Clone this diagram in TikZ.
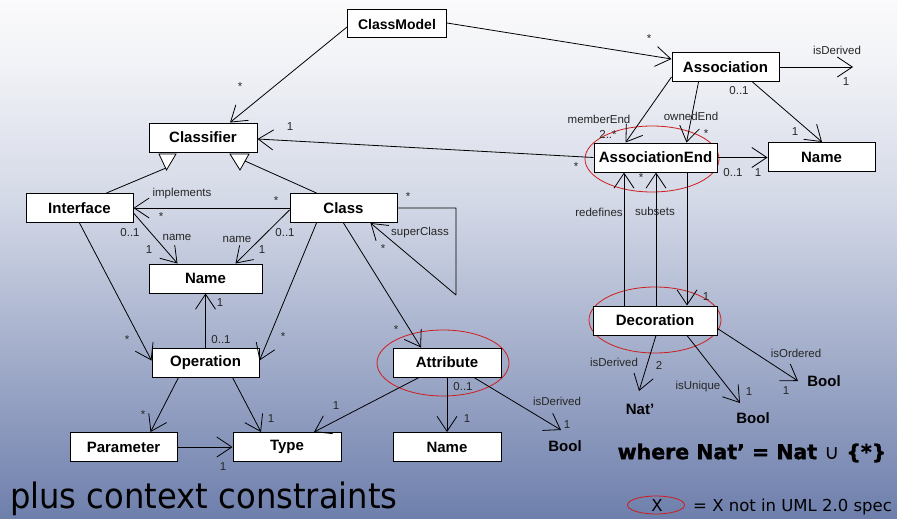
\documentclass[tikz,border=0pt]{standalone}
\usepackage{fontspec}
\setmainfont{Liberation Sans}
\newfontfamily\dejavu{DejaVu Sans}
\newfontfamily\dejavuheavy{DejaVu Sans}[BoldFeatures={FakeBold=1.6}]
\usetikzlibrary{arrows.meta,shapes.geometric}
\definecolor{bgtop}{RGB}{250,250,251}
\definecolor{bgmida}{RGB}{242,243,247}
\definecolor{bgmidb}{RGB}{212,217,231}
\definecolor{bgbot}{RGB}{110,127,172}
\definecolor{ellred}{RGB}{205,30,30}
\begin{document}
\begin{tikzpicture}[x=1pt,y=-1pt,
  cls/.style={draw=black,fill=white,line width=1pt,minimum width=107pt,minimum height=29pt,inner sep=0pt,font=\fontsize{15}{15}\selectfont\bfseries},
  assoc/.style={draw=black,line width=0.8pt,line join=round,-{Straight Barb[length=15pt,width=20pt,line width=0.8pt]}},
  plain/.style={draw=black,line width=0.8pt},
  lbl/.style={font=\fontsize{11.5}{11.5}\selectfont,inner sep=0pt,text=black!85},
  btxt/.style={font=\fontsize{15}{15}\selectfont\bfseries,inner sep=0pt},
  redell/.style={draw=ellred,line width=0.8pt}
]
\useasboundingbox (0,0) rectangle (897,519);
% background
\shade[top color=bgtop,bottom color=bgmida] (0,0) rectangle (897,60.5);
\shade[top color=bgmida,bottom color=bgmidb] (0,60) rectangle (897,200.5);
\shade[top color=bgmidb,bottom color=bgbot] (0,200) rectangle (897,519);

% red ellipses (behind)
\draw[redell] (652,159) ellipse [x radius=67,y radius=33];
\draw[redell] (655,320) ellipse [x radius=66,y radius=33];
\draw[redell] (443,363) ellipse [x radius=66,y radius=33];

% nodes
\node[cls,minimum width=99pt,minimum height=28pt,font=\fontsize{14}{14}\selectfont\bfseries] (cm) at (397,24) {ClassModel};
\node[cls,minimum width=108pt] (clf) at (203,137.5) {Classifier};
\node[cls] (intf) at (79.5,208) {Interface};
\node[cls] (cls) at (343.5,208) {Class};
\node[cls,minimum width=113pt] (nameL) at (205.5,278.5) {Name};
\node[cls] (op) at (205.5,362.5) {Operation};
\node[cls] (par) at (123.5,447) {Parameter};
\node[cls,minimum width=108pt] (type) at (287,447) {Type};
\node[cls,minimum width=108pt] (attr) at (447,362.5) {Attribute};
\node[cls,minimum width=108pt] (nameB) at (447,447) {Name};
\node[cls] (asc) at (725.5,67) {Association};
\node[cls,minimum width=123pt] (aend) at (655.5,157.5) {AssociationEnd};
\node[cls] (nameR) at (821.5,157) {Name};
\node[cls,minimum width=124pt] (deco) at (655,320.5) {Decoration};

\node[btxt] (boolA) at (565,446) {Bool};
\node[btxt] (nat) at (640,409) {Nat’};
\node[btxt] (boolU) at (753,418) {Bool};
\node[btxt] (boolO) at (824,381) {Bool};

% free ends
\coordinate (dervA) at (853,67);
\coordinate (natTip) at (639,391);
\coordinate (uniTip) at (740,403);
\coordinate (ordTip) at (798,381);
\coordinate (attrTip) at (561,430);
\coordinate (sc1) at (456,208);
\coordinate (sc2) at (456,295);
\coordinate (gL) at (166,168);
\coordinate (gR) at (245,161);

% connectors
\draw[assoc] ([yshift=-3pt]cm.west) -- ([xshift=27pt]clf.north);
\draw[assoc] ([yshift=1pt]cm.east) -- ([yshift=8pt]asc.west);
\draw[assoc] (asc.east) -- (dervA);
\draw[assoc] ([xshift=27pt]asc.south) -- ([xshift=0.5pt]nameR.north);
\draw[assoc] ([yshift=5pt]asc.south west) -- ([xshift=-30pt]aend.north);
\draw[assoc] ([xshift=-27pt]asc.south) -- ([xshift=31pt]aend.north);
\draw[assoc] (aend.west) -- ([yshift=-1.5pt]clf.east);
\draw[assoc] (aend.east) -- (aend.east -| nameR.west);
\draw[assoc] ([xshift=-31pt]deco.north) -- ([xshift=-31.5pt]aend.south);
\draw[assoc] ([xshift=1pt]deco.north) -- ([xshift=0.5pt]aend.south);
\draw[assoc] ([xshift=31.5pt]aend.south) -- ([xshift=32pt]deco.north);
\draw[assoc] ([xshift=1pt]deco.south) -- (natTip);
\draw[assoc] ([xshift=32pt]deco.south) -- (uniTip);
\draw[assoc] ([yshift=-8pt]deco.east) -- (ordTip);

\draw[plain] ([xshift=27pt]intf.north) -- (gL);
\draw[plain] ([xshift=-27pt]cls.north) -- (gR);
\draw[plain,fill=white] (159,154) -- (176,154) -- (166.5,170) -- cycle;
\draw[plain,fill=white] (230,154) -- (249,154) -- (240,170) -- cycle;

\draw[assoc] (cls.west) -- (intf.east);
\draw[assoc] ([yshift=-5pt]intf.east) -- ([xshift=-28pt]nameL.north);
\draw[assoc] ([yshift=-2pt]cls.west) -- ([xshift=30pt]nameL.north);
\draw[assoc] (intf.south) -- ([yshift=2pt]op.west);
\draw[assoc] ([xshift=-27pt]cls.south) -- ([yshift=2pt]op.east);
\draw[assoc] (op.north) -- (nameL.south);
\draw[assoc] ([xshift=-27pt]op.south) -- ([xshift=27pt]par.north);
\draw[assoc] ([xshift=27pt]op.south) -- ([xshift=-26pt]type.north);
\draw[assoc] (par.east) -- (type.west);
\draw[assoc] ([xshift=-28pt]attr.south) -- ([xshift=27pt]type.north);
\draw[assoc] (cls.south) -- ([xshift=-26pt]attr.north);
\draw[assoc] (cls.east) -- (sc1) -- (sc2) -- ([xshift=27pt]cls.south);
\draw[assoc] (attr.south) -- (nameB.north);
\draw[assoc] ([xshift=27pt]attr.south) -- (attrTip);

% labels
\node[lbl] (l1) at (240,87) {*};
\node[lbl] (l2) at (649,39) {*};
\node[lbl] (l3) at (837,50) {isDerived};
\node[lbl] (l4) at (846,82) {1};
\node[lbl] (l5) at (739,91) {0..1};
\node[lbl] (l6) at (795,132) {1};
\node[lbl] (l7) at (599,119) {memberEnd};
\node[lbl] (l8) at (608,134) {2..*};
\node[lbl] (l9) at (691,116) {ownedEnd};
\node[lbl] (l10) at (706,134) {*};
\node[lbl] (l11) at (576,167) {*};
\node[lbl] (l12) at (290,127) {1};
\node[lbl] (l13) at (733,173) {0..1};
\node[lbl] (l14) at (758,173) {1};
\node[lbl] (l15) at (599,212) {redefines};
\node[lbl] (l16) at (655,211) {subsets};
\node[lbl] (l17) at (641,178) {*};
\node[lbl] (l18) at (706,297) {1};
\node[lbl] (l19) at (614,362) {isDerived};
\node[lbl] (l20) at (659,365) {2};
\node[lbl] (l21) at (698,387) {isUnique};
\node[lbl] (l22) at (749,392) {1};
\node[lbl] (l23) at (796,353) {isOrdered};
\node[lbl] (l24) at (786,391) {1};
\node[lbl] (l25) at (182,194) {implements};
\node[lbl] (l26) at (161,217) {*};
\node[lbl] (l27) at (276,201) {*};
\node[lbl] (l28) at (130,233) {0..1};
\node[lbl] (l29) at (177,237) {name};
\node[lbl] (l30) at (149,250) {1};
\node[lbl] (l31) at (237,239) {name};
\node[lbl] (l32) at (262,250) {1};
\node[lbl] (l33) at (285,233) {0..1};
\node[lbl] (l34) at (127,340) {*};
\node[lbl] (l35) at (283,337) {*};
\node[lbl] (l36) at (220,303) {1};
\node[lbl] (l37) at (221,340) {0..1};
\node[lbl] (l38) at (143,415) {*};
\node[lbl] (l39) at (271,419) {1};
\node[lbl] (l40) at (223,467) {1};
\node[lbl] (l41) at (336,406) {1};
\node[lbl] (l42) at (396,330) {*};
\node[lbl] (l43) at (408,197) {*};
\node[lbl] (l44) at (420,233) {superClass};
\node[lbl] (l45) at (383,249) {*};
\node[lbl] (l46) at (463,387) {0..1};
\node[lbl] (l47) at (467,419) {1};
\node[lbl] (l48) at (557,401) {isDerived};
\node[lbl] (l49) at (567,425) {1};

% free text
\node[inner sep=0pt,font=\dejavuheavy\fontsize{20.5}{20.5}\selectfont\bfseries] (where) at (752,453) {where Nat’ = Nat {\dejavu\mdseries ∪} \{*\}};
\node[inner sep=0pt,anchor=base west,xscale=0.92,font=\dejavu\fontsize{35}{35}\selectfont] (plus) at (10,508) {plus context constraints};
\draw[redell] (656,505) ellipse [x radius=28.5,y radius=9];
\node[inner sep=0pt,font=\dejavu\fontsize{16.5}{16.5}\selectfont] (legX) at (657,505) {X};
\node[inner sep=0pt,anchor=base west,font=\dejavu\fontsize{16.5}{16.5}\selectfont] (legT) at (693,511) {= X not in UML 2.0 spec};
\end{tikzpicture}
\end{document}
